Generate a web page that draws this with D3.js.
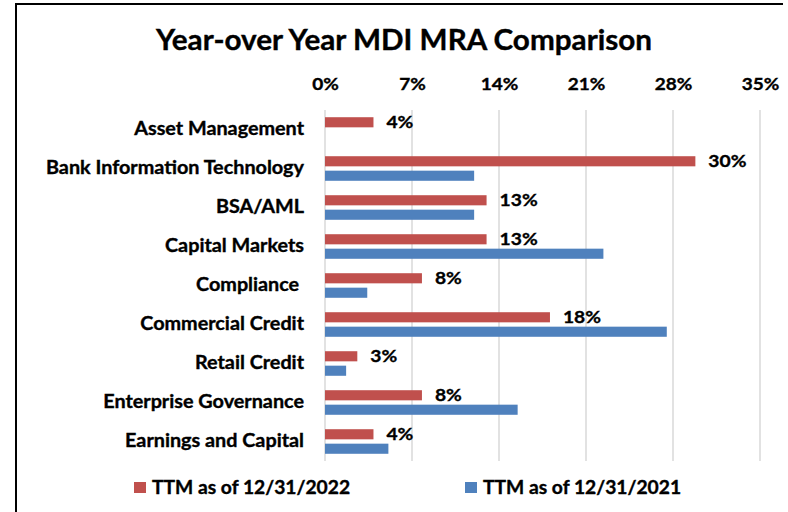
<!DOCTYPE html>
<html>
<head>
<meta charset="utf-8">
<script src="https://cdn.jsdelivr.net/npm/d3@7"></script>
<style>
  html, body { margin: 0; padding: 0; background: #fff; }
  svg { display: block; }
  text { font-family: Lato, "Open Sans", sans-serif; font-weight: bold; fill: #000; stroke: #000; stroke-width: 0.35px; }
</style>
</head>
<body>
<svg id="chart" width="788" height="512"></svg>
<script>
const title = "Year-over Year MDI MRA Comparison";
const categories = [
  "Asset Management",
  "Bank Information Technology",
  "BSA/AML",
  "Capital Markets",
  "Compliance ",
  "Commercial Credit",
  "Retail Credit",
  "Enterprise Governance",
  "Earnings and Capital"
];
const seriesNames = ["TTM as of 12/31/2022", "TTM as of 12/31/2021"];
const values2022 = [0.039, 0.298, 0.13, 0.13, 0.078, 0.181, 0.026, 0.078, 0.039];
const values2021 = [0, 0.12, 0.12, 0.224, 0.034, 0.275, 0.017, 0.155, 0.051];
const labels2022 = ["4%", "30%", "13%", "13%", "8%", "18%", "3%", "8%", "4%"];
const tickValues = [0, 0.07, 0.14, 0.21, 0.28, 0.35];
const colors = ["#C0504D", "#4F81BD"];

const svg = d3.select("#chart");
svg.append("rect").attr("width", 788).attr("height", 512).attr("fill", "#fff");

// frame (top and left edges visible)
svg.append("line").attr("x1", 15).attr("x2", 783).attr("y1", 4).attr("y2", 4)
  .attr("stroke", "#000").attr("stroke-width", 2);
svg.append("line").attr("x1", 16).attr("x2", 16).attr("y1", 3).attr("y2", 512)
  .attr("stroke", "#000").attr("stroke-width", 2);

const plotTop = 110, plotBottom = 461;
const x = d3.scaleLinear().domain([0, 0.35]).range([325, 760]);
const y0 = d3.scaleBand().domain(categories).range([plotTop, plotBottom])
  .paddingInner(0.37).paddingOuter(0.185);
const y1 = d3.scaleBand().domain(seriesNames).range([0, y0.bandwidth()]).paddingInner(0.3);

// title
svg.append("text").attr("transform", "translate(404,50) scale(1.06,1)").attr("text-anchor", "middle")
  .style("font-size", "28px").text(title);

// gridlines
svg.append("g").selectAll("line").data(tickValues).join("line")
  .attr("x1", d => x(d)).attr("x2", d => x(d))
  .attr("y1", plotTop).attr("y2", plotBottom)
  .attr("stroke", "#d9d9d9").attr("stroke-width", 1.5);

// top axis labels
const xAxis = d3.axisTop(x).tickValues(tickValues).tickFormat(d3.format(".0%")).tickSize(0).tickPadding(0);
const gx = svg.append("g").attr("transform", "translate(0,90)").call(xAxis);
gx.select(".domain").remove();
gx.selectAll("text").attr("font-family", null).attr("font-size", null)
  .style("font-size", "17px").attr("transform", "scale(1.12,1)");

// category labels
const yAxis = d3.axisLeft(y0).tickSize(0).tickPadding(0);
const gy = svg.append("g").attr("transform", "translate(304,0)").call(yAxis);
gy.select(".domain").remove();
gy.selectAll("text").attr("font-family", null).attr("font-size", null)
  .style("font-size", "18px").attr("transform", "scale(1.1,1)")
  .attr("xml:space", "preserve").style("white-space", "pre");

// bars
const rows = categories.map((c, i) => ({ cat: c, vals: [values2022[i], values2021[i]], label: labels2022[i] }));
const groups = svg.append("g").selectAll("g").data(rows).join("g")
  .attr("transform", d => `translate(0,${y0(d.cat)})`);
groups.selectAll("rect").data(d => d.vals.map((v, k) => ({ v, k }))).join("rect")
  .attr("x", x(0))
  .attr("y", d => y1(seriesNames[d.k]))
  .attr("width", d => x(d.v) - x(0))
  .attr("height", y1.bandwidth())
  .attr("fill", d => colors[d.k]);

// data labels (2022 series)
groups.append("text")
  .attr("transform", d => `translate(${x(d.vals[0]) + 13},${y1(seriesNames[0]) + y1.bandwidth() / 2}) scale(1.1,1)`)
  .attr("dy", "0.35em")
  .style("font-size", "17.5px")
  .text(d => d.label);

// legend
const legendX = [134, 465];
const leg = svg.append("g").selectAll("g").data(seriesNames).join("g")
  .attr("transform", (d, i) => `translate(${legendX[i]},482)`);
leg.append("rect").attr("width", 12).attr("height", 11).attr("fill", (d, i) => colors[i]);
leg.append("text").attr("transform", "translate(18,12) scale(1.07,1)").style("font-size", "18px").text(d => d);
</script>
</body>
</html>
